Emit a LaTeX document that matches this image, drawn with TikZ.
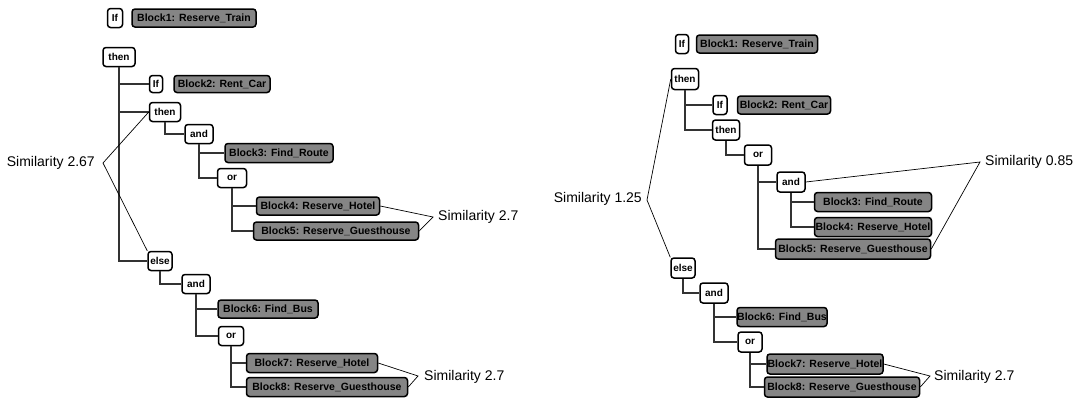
\documentclass[tikz,border=0pt]{standalone}
\usepackage{fontspec}
\setmainfont{Liberation Sans}
\begin{document}
\begin{tikzpicture}[x=1pt,y=-1pt,
  op/.style={draw, rounded corners=3pt, line width=1.5pt, fill=white,
    font=\bfseries\fontsize{10}{11}\selectfont, inner sep=0pt, minimum height=19pt},
  blk/.style={op, fill=black!48, font=\bfseries\fontsize{10.5}{11}\selectfont, minimum height=18pt},
  wire/.style={line width=1.6pt, black!80},
  brk/.style={line width=0.7pt},
  sim/.style={font=\fontsize{14}{16}\selectfont, inner sep=0pt}]
\useasboundingbox (0,0) rectangle (1084,400);

% ---------- left tree ----------
\node[op, minimum width=15pt] (Lif1) at (115,18) {If};
\node[blk, minimum width=124pt] (Lb1) at (194,18) {Block1: Reserve\_Train};
\node[op, minimum width=32pt] (Lthen1) at (119,57) {then};
\node[op, minimum width=13pt, minimum height=17pt] (Lif2) at (156,84) {If};
\node[blk, minimum width=96pt, minimum height=17pt] (Lb2) at (222,84) {Block2: Rent\_Car};
\node[op, minimum width=31pt] (Lthen2) at (165,112) {then};
\node[op, minimum width=28pt] (Land1) at (199,134) {and};
\node[blk, minimum width=108pt, minimum height=19pt] (Lb3) at (279,153) {Block3: Find\_Route};
\node[op, minimum width=29pt] (Lor1) at (232,178) {or};
\node[blk, minimum width=123pt] (Lb4) at (318,206) {Block4: Reserve\_Hotel};
\node[blk, minimum width=165pt] (Lb5) at (336,231) {Block5: Reserve\_Guesthouse};
\node[op, minimum width=24pt] (Lelse) at (160,261) {else};
\node[op, minimum width=28pt] (Land2) at (196,284) {and};
\node[blk, minimum width=100pt] (Lb6) at (268,309) {Block6: Find\_Bus};
\node[op, minimum width=25pt] (Lor2) at (231,336) {or};
\node[blk, minimum width=131pt, minimum height=19pt] (Lb7) at (312,363) {Block7: Reserve\_Hotel};
\node[blk, minimum width=161pt, minimum height=19pt] (Lb8) at (327,387) {Block8: Reserve\_Guesthouse};

\draw[wire] (Lthen1.south) |- (Lif2.west);
\draw[wire] (Lthen1.south) |- (Lthen2.west);
\draw[wire] (Lthen1.south) |- (Lelse.west);
\draw[wire] (Lthen2.south) |- (Land1.west);
\draw[wire] (Land1.south) |- (Lb3.west);
\draw[wire] (Land1.south) |- (Lor1.west);
\draw[wire] (Lor1.south) |- (Lb4.west);
\draw[wire] (Lor1.south) |- (Lb5.west);
\draw[wire] (Lelse.south) |- (Land2.west);
\draw[wire] (Land2.south) |- (Lb6.west);
\draw[wire] (Land2.south) |- (Lor2.west);
\draw[wire] (Lor2.south) |- (Lb7.west);
\draw[wire] (Lor2.south) |- (Lb8.west);

% similarity brackets, left
\node[sim, anchor=east] (Ls1) at (95,163) {Similarity 2.67};
\coordinate (Lv1) at (103,163);
\draw[brk] (Lthen2.west) -- (Lv1) -- (Lelse.north west);
\node[sim, anchor=west] (Ls2) at (438,217) {Similarity 2.7};
\coordinate (Lv2) at (433,217);
\draw[brk] (Lb4.east) -- (Lv2) -- (Lb5.east);
\node[sim, anchor=west] (Ls3) at (424,377) {Similarity 2.7};
\coordinate (Lv3) at (418,376);
\draw[brk] (Lb7.east) -- (Lv3) -- (Lb8.east);

% ---------- right tree ----------
\node[op, minimum width=13pt] (Rif1) at (682,44) {If};
\node[blk, minimum width=121pt] (Rb1) at (757,44) {Block1: Reserve\_Train};
\node[op, minimum width=27pt, minimum height=21pt] (Rthen1) at (685,79) {then};
\node[op, minimum width=14pt] (Rif2) at (720,105) {If};
\node[blk, minimum width=93pt] (Rb2) at (784,105) {Block2: Rent\_Car};
\node[op, minimum width=27pt, minimum height=20pt] (Rthen2) at (726,130) {then};
\node[op, minimum width=27pt, minimum height=20pt] (Ror1) at (758,155) {or};
\node[op, minimum width=28pt, minimum height=20pt] (Rand1) at (791,182) {and};
\node[blk, minimum width=117pt, minimum height=19pt] (Rb3) at (873,202) {Block3: Find\_Route};
\node[blk, minimum width=117pt, minimum height=19pt] (Rb4) at (873,227) {Block4: Reserve\_Hotel};
\node[blk, minimum width=155pt, minimum height=20pt] (Rb5) at (853,249) {Block5: Reserve\_Guesthouse};
\node[op, minimum width=24pt, minimum height=20pt] (Relse) at (683,268) {else};
\node[op, minimum width=28pt, minimum height=20pt] (Rand2) at (714,293) {and};
\node[blk, minimum width=90pt, minimum height=19pt] (Rb6) at (782,317) {Block6: Find\_Bus};
\node[op, minimum width=24pt, minimum height=20pt] (Ror2) at (750,342) {or};
\node[blk, minimum width=116pt, minimum height=20pt] (Rb7) at (825,364) {Block7: Reserve\_Hotel};
\node[blk, minimum width=155pt, minimum height=20pt] (Rb8) at (842,387) {Block8: Reserve\_Guesthouse};

\draw[wire] (Rthen1.south) |- (Rif2.west);
\draw[wire] (Rthen1.south) |- (Rthen2.west);
\draw[wire] (Rthen2.south) |- (Ror1.west);
\draw[wire] (Ror1.south) |- (Rand1.west);
\draw[wire] (Ror1.south) |- (Rb5.west);
\draw[wire] (Rand1.south) |- (Rb3.west);
\draw[wire] (Rand1.south) |- (Rb4.west);
\draw[wire] (Relse.south) |- (Rand2.west);
\draw[wire] (Rand2.south) |- (Rb6.west);
\draw[wire] (Rand2.south) |- (Ror2.west);
\draw[wire] (Ror2.south) |- (Rb7.west);
\draw[wire] (Ror2.south) |- (Rb8.west);

% similarity brackets, right
\node[sim, anchor=east] (Rs1) at (642,199) {Similarity 1.25};
\coordinate (Rv1) at (647,200);
\draw[brk] (Rthen1.west) -- (Rv1) -- (Relse.north west);
\node[sim, anchor=west] (Rs2) at (985,162) {Similarity 0.85};
\coordinate (Rv2) at (980,162);
\draw[brk] (Rand1.east) -- (Rv2) -- (Rb5.east);
\node[sim, anchor=west] (Rs3) at (934,377) {Similarity 2.7};
\coordinate (Rv3) at (930,376);
\draw[brk] (Rb7.east) -- (Rv3) -- (Rb8.east);
\end{tikzpicture}
\end{document}
